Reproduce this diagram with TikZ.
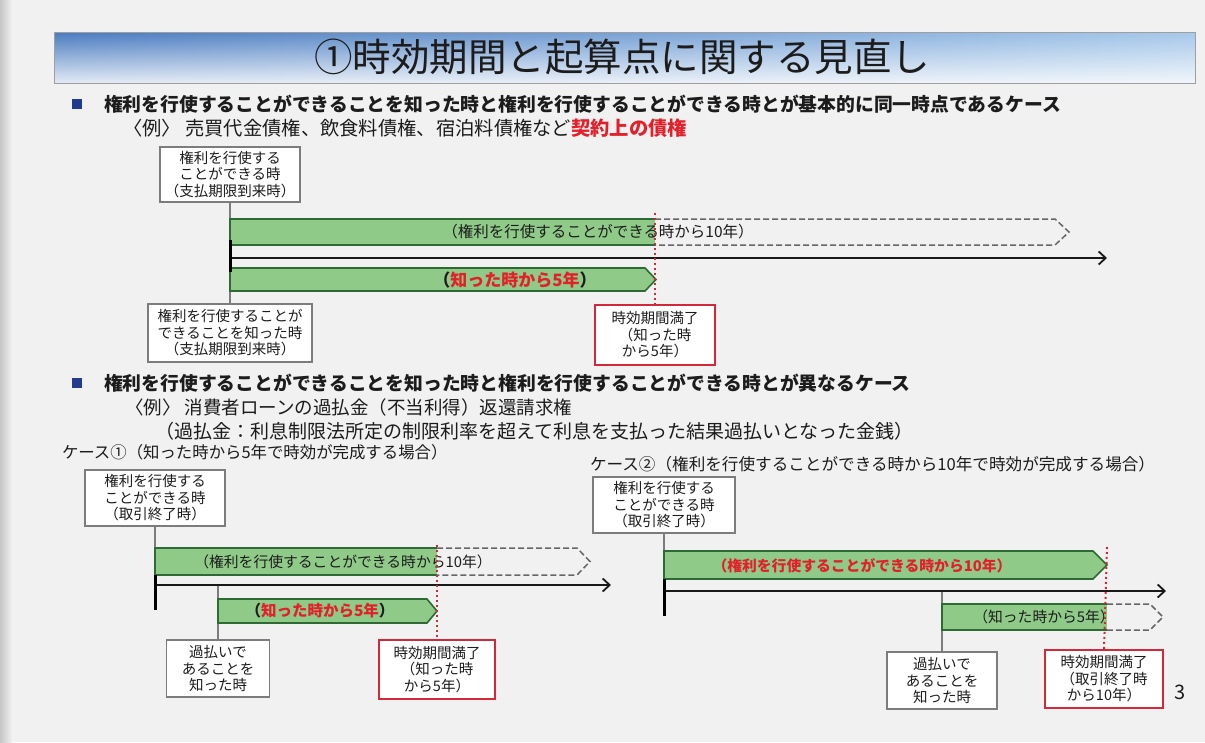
\documentclass[tikz,border=0pt]{standalone}
\usepackage{fontspec}
\setmainfont{Noto Sans CJK JP}
\usetikzlibrary{fadings,arrows.meta}
\definecolor{bgc}{HTML}{F1F1F1}
\definecolor{tbA}{HTML}{4A7BC0}
\definecolor{tbB}{HTML}{A6C8EA}
\definecolor{bgray}{HTML}{7C7C7C}
\definecolor{rbox}{HTML}{D3283A}
\definecolor{rtext}{HTML}{E3202A}
\definecolor{gfillc}{HTML}{8FCA88}
\definecolor{glinec}{HTML}{2E6A34}
\definecolor{dgray}{HTML}{666666}
\definecolor{bul}{HTML}{243A8E}
\definecolor{ink}{HTML}{1C1C1C}
\tikzfading[name=fadeup, top color=transparent!100, bottom color=transparent!15]
\newcommand\fsz[2]{\fontsize{#1}{#2}\selectfont}
\begin{document}
\begin{tikzpicture}[x=1pt,y=-1pt,
  every node/.style={inner sep=0pt, outer sep=0pt, text=ink},
  infobox/.style={draw=bgray, line width=1.6pt, fill=white, align=center, font=\fsz{14.5}{16.5}},
  redbox/.style={infobox, draw=rbox},
  conn/.style={draw=bgray, line width=1.4pt},
  tickline/.style={draw=black, line width=3pt},
  tline/.style={draw=black!90, line width=1.8pt, -{Straight Barb[length=7pt,width=13pt,line width=1.8pt]}},
  gbar/.style={fill=gfillc, draw=glinec, line width=1.6pt},
  gfillonly/.style={fill=gfillc},
  gedge/.style={draw=glinec, line width=1.6pt},
  dashbar/.style={draw=dgray, line width=1.5pt, dash pattern=on 6pt off 3pt},
  reddot/.style={draw=rbox, line width=2pt, dash pattern=on 2pt off 3pt},
  bulletsq/.style={fill=bul, minimum width=10pt, minimum height=10pt},
  headtxt/.style={anchor=west, font=\fsz{18.8}{20}\bfseries},
  extxt/.style={anchor=west, font=\fsz{19}{20}},
  casetxt/.style={anchor=west, font=\fsz{16.4}{18}},
]
% background
\fill[bgc] (0,0) rectangle (1205,742);
\useasboundingbox (0,0) rectangle (1205,742);
\shade[left color=gray!45, right color=bgc] (0,0) rectangle (12,742);

% title bar
\shade[left color=tbA, right color=tbB] (54,32) rectangle (1195,83);
\fill[white, path fading=fadeup] (54,32) rectangle (1195,83);
\draw[gray!75, line width=1pt] (54,32) rectangle (1195,83);
\node[font=\fsz{38.5}{40}] (title) at (622,57) {①時効期間と起算点に関する見直し};

% section 1 heading
\node[bulletsq] (bu1) at (77,104) {};
\node[headtxt] (h1) at (104,104) {権利を行使することができることを知った時と権利を行使することができる時とが基本的に同一時点であるケース};
\node[extxt, font=\fsz{19.3}{20}] (ex1) at (123,128) {〈例〉 売買代金債権、飲食料債権、宿泊料債権など{\color{rtext}\bfseries 契約上の債権}};

% section 1 diagram
\node[infobox, minimum width=140pt, minimum height=55pt] (A1) at (230,174.5) {権利を行使する\\ことができる時\\（支払期限到来時）};
\node[infobox, minimum width=164pt, minimum height=58pt] (A2) at (230,333) {権利を行使することが\\できることを知った時\\（支払期限到来時）};
\node[redbox, minimum width=120pt, minimum height=60pt] (A3) at (655,335) {時効期間満了\\（知った時\\から5年）};
\coordinate (A10L) at (230,219);
\coordinate (tA0) at (230,258);
\coordinate (tA1) at (1107,258);
\coordinate (tkA0) at (230,240);
\coordinate (tkA1) at (230,272);
\coordinate (rA) at (655,213);
\draw[conn] (A1.south) -- (A10L);
\draw[conn] (A2.north) -- (tA0);
\fill[gfillc] (230,219) rectangle (655,245);
\draw[gedge] (655,219) -- (230,219) -- (230,245) -- (655,245);
\draw[dashbar] (655,219) -- (1055,219) -- (1069,232) -- (1055,245) -- (655,245);
\filldraw[gbar] (230,268) -- (645,268) -- (656,279.5) -- (645,291) -- (230,291) -- cycle;
\draw[tline] (tA0) -- (tA1);
\draw[tickline] (tkA0) -- (tkA1);
\node[font=\fsz{15.5}{16}] (tA10) at (598,232) {（権利を行使することができる時から10年）};
\node[font=\fsz{17}{17}\bfseries] (tA5) at (515,280) {（{\color{rtext}知った時から5年}）};
\draw[reddot] (rA) -- (A3.north);

% section 2 heading
\node[bulletsq] (bu2) at (77,383) {};
\node[headtxt] (h2) at (104,383) {権利を行使することができることを知った時と権利を行使することができる時とが異なるケース};
\node[extxt, font=\fsz{18.5}{20}] (ex2) at (125,407) {〈例〉 消費者ローンの過払金（不当利得）返還請求権};
\node[extxt] (ex3) at (155,431) {（過払金：利息制限法所定の制限利率を超えて利息を支払った結果過払いとなった金銭）};
\node[casetxt] (c1) at (62,452) {ケース①（知った時から5年で時効が完成する場合）};
\node[casetxt, font=\fsz{16.6}{18}] (c2) at (590,464) {ケース②（権利を行使することができる時から10年で時効が完成する場合）};

% case 1
\node[infobox, minimum width=140pt, minimum height=56pt] (B1) at (155,498) {権利を行使する\\ことができる時\\（取引終了時）};
\node[infobox, minimum width=103pt, minimum height=57pt] (B2) at (218,668.5) {過払いで\\あることを\\知った時};
\node[redbox, minimum width=116pt, minimum height=59pt] (B3) at (437,669.5) {時効期間満了\\（知った時\\から5年）};
\coordinate (B10L) at (155,548);
\coordinate (tB0) at (155,585);
\coordinate (tB1) at (611,585);
\coordinate (tkB0) at (155,575);
\coordinate (tkB1) at (155,610);
\coordinate (kB) at (218,585);
\coordinate (rB) at (437,545);
\draw[conn] (B1.south) -- (B10L);
\draw[conn] (B2.north) -- (kB);
\fill[gfillc] (155,548) rectangle (437,575);
\draw[gedge] (437,548) -- (155,548) -- (155,575) -- (437,575);
\draw[dashbar] (437,548) -- (577,548) -- (590,561.5) -- (577,575) -- (437,575);
\filldraw[gbar] (218,599) -- (427,599) -- (437,611) -- (427,623) -- (218,623) -- cycle;
\draw[tline] (tB0) -- (tB1);
\draw[tickline] (tkB0) -- (tkB1);
\node[font=\fsz{14.8}{15}] (tB10) at (343,561.5) {（権利を行使することができる時から10年）};
\node[font=\fsz{15.5}{16}\bfseries] (tB5) at (320,611) {（{\color{rtext}知った時から5年}）};
\draw[reddot] (rB) -- (B3.north);

% case 2
\node[infobox, minimum width=142pt, minimum height=56pt] (C1) at (664,505) {権利を行使する\\ことができる時\\（取引終了時）};
\node[infobox, minimum width=110pt, minimum height=57pt] (C2) at (942,680.5) {過払いで\\あることを\\知った時};
\node[redbox, minimum width=118pt, minimum height=58pt] (C3) at (1104,679) {時効期間満了\\（取引終了時\\から10年）};
\coordinate (C10L) at (664,551);
\coordinate (tC0) at (664,591);
\coordinate (tC1) at (1166,591);
\coordinate (tkC0) at (664,579);
\coordinate (tkC1) at (664,616);
\coordinate (kC) at (942,591);
\coordinate (rC) at (1107,547);
\draw[conn] (C1.south) -- (C10L);
\draw[conn] (C2.north) -- (kC);
\filldraw[gbar] (664,551) -- (1093,551) -- (1107,565) -- (1093,579) -- (664,579) -- cycle;
\fill[gfillc] (942,604) rectangle (1107,630);
\draw[gedge] (1107,604) -- (942,604) -- (942,630) -- (1107,630);
\draw[dashbar] (1107,604) -- (1150,604) -- (1163,617) -- (1150,630) -- (1107,630);
\draw[tline] (tC0) -- (tC1);
\draw[tickline] (tkC0) -- (tkC1);
\node[font=\fsz{14.8}{15}\bfseries, text=rtext] (tC10) at (862,566) {（権利を行使することができる時から10年）};
\node[font=\fsz{14.8}{15}] (tC5) at (1044,617) {（知った時から5年）};
\draw[reddot] (rC) -- (C3.north);

\node[font=\fsz{20}{20}] (pg) at (1180,692) {3};
\end{tikzpicture}
\end{document}
